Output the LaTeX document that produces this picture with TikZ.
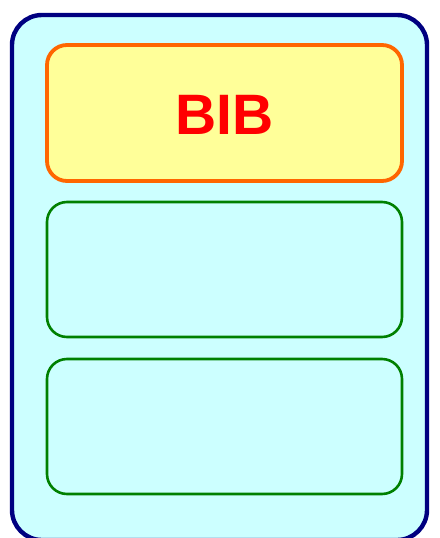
\documentclass[tikz,border=0pt]{standalone}
\usepackage{fontspec}
\setmainfont{Liberation Sans}
\definecolor{outerline}{RGB}{0,0,128}
\definecolor{panelfill}{RGB}{204,255,255}
\definecolor{bibfill}{RGB}{255,255,153}
\definecolor{bibline}{RGB}{255,102,0}
\definecolor{slotline}{RGB}{0,128,0}
\tikzset{
  outerbox/.style={draw=outerline,fill=panelfill,line width=4.4pt,rounded corners=30pt},
  bibbox/.style={draw=bibline,fill=bibfill,line width=3.8pt,rounded corners=20pt},
  slotbox/.style={draw=slotline,fill=panelfill,line width=2.6pt,rounded corners=20pt},
  biblab/.style={text=red,font=\fontsize{57}{57}\selectfont\bfseries}
}
\begin{document}
\begin{tikzpicture}[x=1pt,y=-1pt]
  \useasboundingbox (0,0) rectangle (439,538);
  % outer panel
  \draw[outerbox] (12,15) rectangle (427,540);
  % top slot
  \draw[bibbox] (47,45) rectangle (402,181);
  \node[biblab] (bib) at (224.5,115) {BIB};
  % empty slots
  \draw[slotbox] (47,202) rectangle (402,337);
  \draw[slotbox] (47,359) rectangle (402,494);
\end{tikzpicture}
\end{document}
